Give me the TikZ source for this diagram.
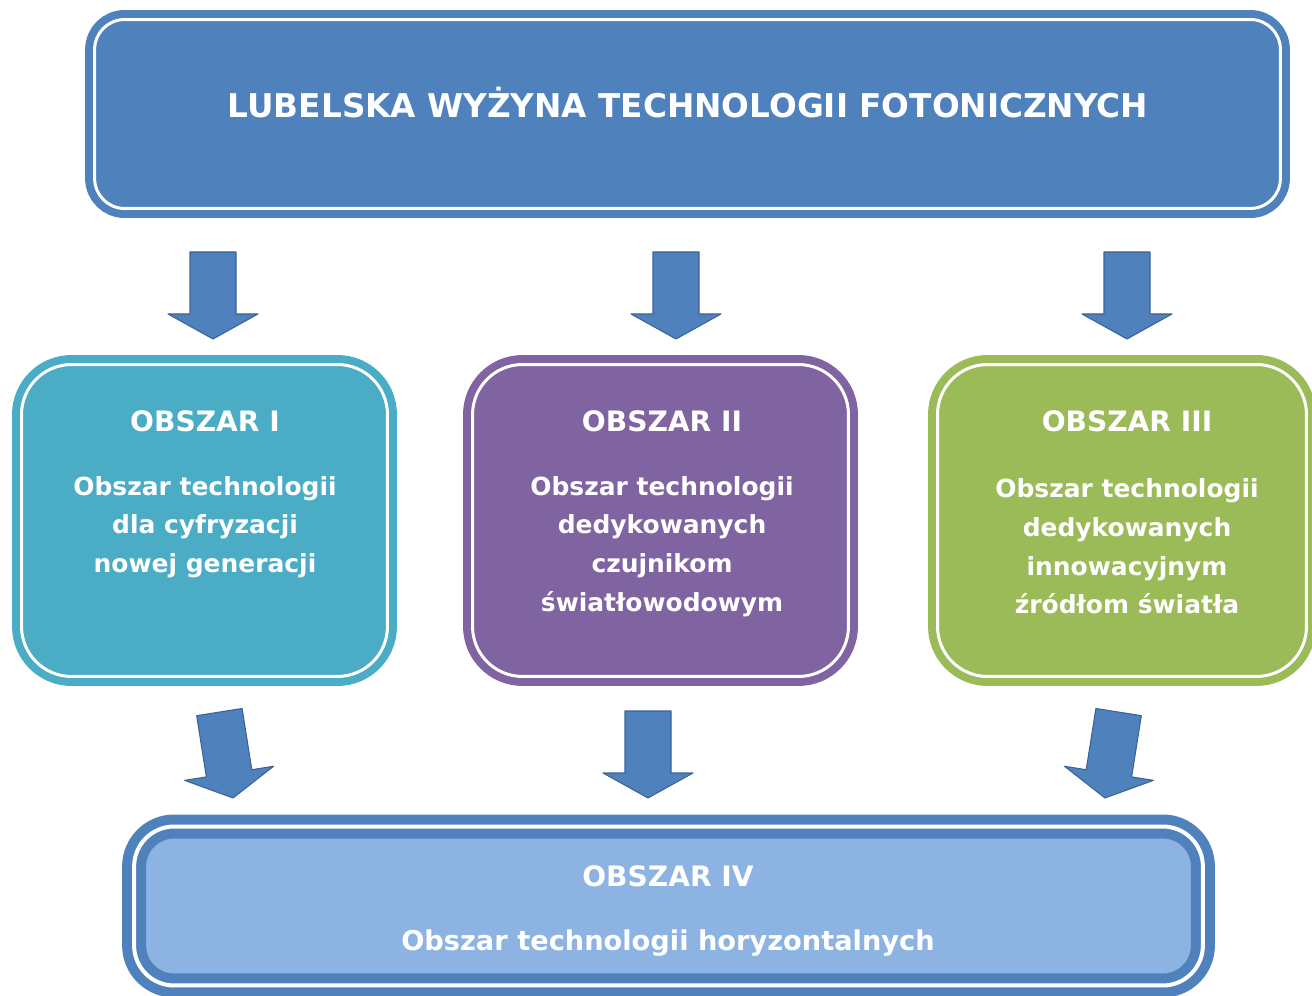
\documentclass[tikz,border=0pt]{standalone}
\usepackage{fontspec}
\setmainfont{DejaVu Sans}
\usetikzlibrary{positioning}
\definecolor{topblue}{HTML}{4F81BD}
\definecolor{arrowline}{HTML}{3B6396}
\definecolor{teal}{HTML}{4BACC6}
\definecolor{violet}{HTML}{8064A2}
\definecolor{olive}{HTML}{9BBB59}
\definecolor{paleblue}{HTML}{8DB3E2}

\begin{document}
\begin{tikzpicture}[x=0.02cm,y=-0.02cm,
        panel/.style={draw=#1,fill=#1,line width=0.16cm,double=white,double distance=0.06cm,
          rounded corners=1cm,inner sep=0,minimum width=7.4cm,minimum height=6.24cm},
        head/.style={text=white,font=\fontsize{16}{20}\selectfont\bfseries},
        body/.style={text=white,font=\fontsize{14.2}{22}\selectfont\bfseries,align=center},
        pics/downarrow/.style={code={
          \draw[fill=topblue,draw=arrowline,line width=0.6pt,line join=round]
            (-23,-87) -- (23,-87) -- (23,-25) -- (45,-25) -- (0,0) -- (-45,-25) -- (-23,-25) -- cycle;}}]
        \useasboundingbox (0,0) rectangle (1312,996);
        % top box
        \node[panel=topblue,minimum width=23.72cm,minimum height=3.78cm,rounded corners=0.6cm] (lwtf) at (687.5,114) {};
        \node[text=white,font=\fontsize{18.6}{22}\selectfont\bfseries] (title) at (688,103) {LUBELSKA WYŻYNA TECHNOLOGII FOTONICZNYCH};
        % three areas
        \node[panel=teal,minimum width=7.32cm] (area1) at (204.5,520.5) {};
        \node[panel=violet,minimum width=7.52cm] (area2) at (660.5,520.5) {};
        \node[panel=olive,minimum width=7.38cm] (area3) at (1122,520.5) {};
        \node[head] (head1) at (205,421) {OBSZAR I};
        \node[head] (head2) at (662,421) {OBSZAR II};
        \node[head] (head3) at (1127,421) {OBSZAR III};
        \node[body] (text1) at (205,527) {Obszar technologii\\dla cyfryzacji\\nowej generacji};
        \node[body] (text2) at (662,546.5) {Obszar technologii\\dedykowanych\\czujnikom\\światłowodowym};
        \node[body] (text3) at (1127,546.5) {Obszar technologii\\dedykowanych\\innowacyjnym\\źródłom światła};
        % bottom box
        \node[panel=topblue,fill=paleblue,line width=0.2cm,double distance=0.08cm,
          minimum width=21.38cm,minimum height=3.18cm,rounded corners=0.8cm] (area4) at (668.5,906) {};
        \node[head] (head4) at (668,876) {OBSZAR IV};
        \node[head,font=\fontsize{15.5}{20}\selectfont\bfseries] (text4) at (668,943) {Obszar technologii horyzontalnych};
        % arrows
        \pic (in1) at (213,339) {downarrow};
        \pic (in2) at (676,339) {downarrow};
        \pic (in3) at (1127,339) {downarrow};
        \pic[rotate=9] (out1) at (233,798) {downarrow};
        \pic (out2) at (648,798) {downarrow};
        \pic[rotate=-9] (out3) at (1105,798) {downarrow};
\end{tikzpicture}
\end{document}
